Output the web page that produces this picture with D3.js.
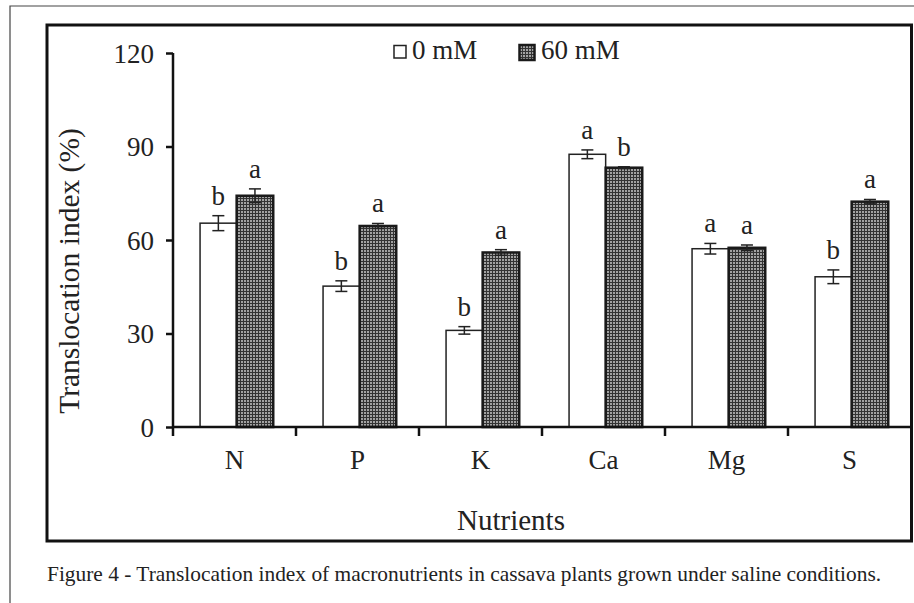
<!DOCTYPE html>
<html><head><meta charset="utf-8">
<script src="https://cdn.jsdelivr.net/npm/d3@7"></script>
<style>body{margin:0;background:#fff}svg{display:block}</style>
</head><body><svg id="c" width="914" height="603" font-family="Liberation Serif, Times New Roman, serif"></svg>
<script>
const categories = ["N","P","K","Ca","Mg","S"];
const seriesNames = ["0 mM","60 mM"];
const values0 = [65.4,45.2,31.0,87.5,57.2,48.2];
const values60 = [74.2,64.5,56.0,83.2,57.5,72.3];
const errors0 = [2.4,1.7,1.2,1.4,1.7,2.2];
const errors60 = [2.2,0.8,0.9,0.3,0.9,0.7];
const letters0 = ["b","b","b","a","a","b"];
const letters60 = ["a","a","a","b","a","a"];
const yTicks = [0,30,60,90,120];

const FONT = "Liberation Serif";
const svg = d3.select("#c");
svg.append("rect").attr("width",914).attr("height",603).attr("fill","#fff");
const defs = svg.append("defs");
const pat = defs.append("pattern").attr("id","chk").attr("patternUnits","userSpaceOnUse").attr("width",3).attr("height",3);
pat.append("rect").attr("width",3).attr("height",3).attr("fill","#a2a2a2");
pat.append("rect").attr("width",3).attr("height",1).attr("fill","#333");
pat.append("rect").attr("width",1).attr("height",3).attr("fill","#333");

svg.append("path").attr("d","M10,603 V6 H914").attr("fill","none").attr("stroke","#444").attr("stroke-width",1.2);
svg.append("rect").attr("x",47).attr("y",25).attr("width",864.5).attr("height",516)
  .attr("fill","none").attr("stroke","#111").attr("stroke-width",3);

const y = d3.scaleLinear().domain([0,120]).range([427,53]);
const x = d3.scaleBand().domain(categories).range([173,911]).padding(0);
const bw = x.bandwidth();
const x1 = d3.scaleBand().domain(seriesNames).range([bw*0.22, bw*0.815]).padding(0);

function txt(sel){ return sel.attr("font-family",FONT).attr("fill","#222"); }

const data = categories.map((c,i)=>({c, v:[values0[i],values60[i]], e:[errors0[i],errors60[i]], l:[letters0[i],letters60[i]]}));
const g = svg.append("g");
data.forEach(d=>{
  seriesNames.forEach((s,j)=>{
    const bx = x(d.c)+x1(s);
    const w = x1.bandwidth();
    g.append("rect").attr("x",bx).attr("y",y(d.v[j])).attr("width",w).attr("height",y(0)-y(d.v[j]))
      .attr("fill", j===0?"#fff":"url(#chk)").attr("stroke", j===0?"#222":"#1a1a1a").attr("stroke-width", j===0?1.5:2.5);
    const cx = bx + w/2;
    const top = y(d.v[j]+d.e[j]), bot = y(d.v[j]-d.e[j]);
    g.append("line").attr("x1",cx).attr("x2",cx).attr("y1",top).attr("y2",bot).attr("stroke","#222").attr("stroke-width",1.5);
    [top,bot].forEach(yy=>g.append("line").attr("x1",cx-6).attr("x2",cx+6).attr("y1",yy).attr("y2",yy).attr("stroke","#222").attr("stroke-width",1.5));
    txt(g.append("text")).attr("x",cx).attr("y",top-11).attr("text-anchor","middle").attr("font-size",27).text(d.l[j]);
  });
});

const ya = svg.append("g").attr("transform","translate(173,0)").call(d3.axisLeft(y).tickValues(yTicks).tickSize(7).tickPadding(12));
ya.attr("font-family",FONT);
ya.select(".domain").attr("stroke","#111").attr("stroke-width",2.5).attr("d","M-0,53V436");
ya.selectAll(".tick line").attr("stroke","#111").attr("stroke-width",2.5);
txt(ya.selectAll(".tick text")).attr("font-size",27).attr("dy","0.35em");

const xa = svg.append("g").attr("transform","translate(0,427)").call(d3.axisBottom(x).tickSize(0).tickPadding(23));
xa.attr("font-family",FONT);
xa.select(".domain").attr("stroke","#111").attr("stroke-width",2.5).attr("d","M173,0H911");
txt(xa.selectAll(".tick text")).attr("font-size",27);
categories.slice(1).forEach(c=>{
  svg.append("line").attr("x1",x(c)).attr("x2",x(c)).attr("y1",427).attr("y2",436).attr("stroke","#111").attr("stroke-width",2.5);
});

txt(svg.append("text")).attr("transform","translate(79,271) rotate(-90)").attr("text-anchor","middle").attr("font-size",29.5).text("Translocation index (%)");
txt(svg.append("text")).attr("x",511).attr("y",530).attr("text-anchor","middle").attr("font-size",29).text("Nutrients");

svg.append("rect").attr("x",394).attr("y",45.5).attr("width",12).attr("height",12.5).attr("fill","#fff").attr("stroke","#222").attr("stroke-width",1.5);
txt(svg.append("text")).attr("x",412).attr("y",59).attr("font-size",27).text(seriesNames[0]);
svg.append("rect").attr("x",519.5).attr("y",45).attr("width",15).attr("height",15).attr("fill","url(#chk)").attr("stroke","#1a1a1a").attr("stroke-width",2.5);
txt(svg.append("text")).attr("x",541).attr("y",59).attr("font-size",27).text(seriesNames[1]);

txt(svg.append("text")).attr("x",47).attr("y",581).attr("font-size",21.4).text("Figure 4 - Translocation index of macronutrients in cassava plants grown under saline conditions.");
</script></body></html>
